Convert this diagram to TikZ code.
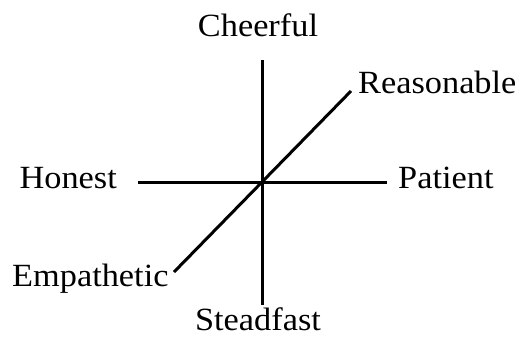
\documentclass[tikz,border=0pt]{standalone}
\usepackage{fontspec}
\setmainfont{Liberation Serif}[FakeStretch=1.06]
\usepackage{tikz}
\usetikzlibrary{positioning}
\tikzset{
  axis/.style={line width=3bp, color=black},
  trait/.style={font=\fontsize{32.5}{38}\selectfont, inner sep=0pt}
}

\begin{document}
\begin{tikzpicture}[x=1bp, y=-1bp]
  \useasboundingbox (0,0) rectangle (515,339);
  % axis ends and centre
  \coordinate (O) at (262,182);
  \coordinate (top) at (262,60);
  \coordinate (bot) at (262,305);
  \coordinate (lft) at (138,182);
  \coordinate (rgt) at (387,182);
  \coordinate (ne) at (351,91);
  \coordinate (sw) at (174,272);

  % the three axes
  \draw[axis] (top) -- (bot);
  \draw[axis] (lft) -- (rgt);
  \draw[axis] (sw) -- (ne);

  % trait labels
  \node[trait, anchor=base] (cheerful) at (258,36) {Cheerful};
  \node[trait, anchor=base west] (reasonable) at (358,93) {Reasonable};
  \node[trait, anchor=base east] (honest) at (117,188) {Honest};
  \node[trait, anchor=base west] (patient) at (398,188) {Patient};
  \node[trait, anchor=base west] (empathetic) at (12,286) {Empathetic};
  \node[trait, anchor=base] (steadfast) at (258,330) {Steadfast};
\end{tikzpicture}
\end{document}
